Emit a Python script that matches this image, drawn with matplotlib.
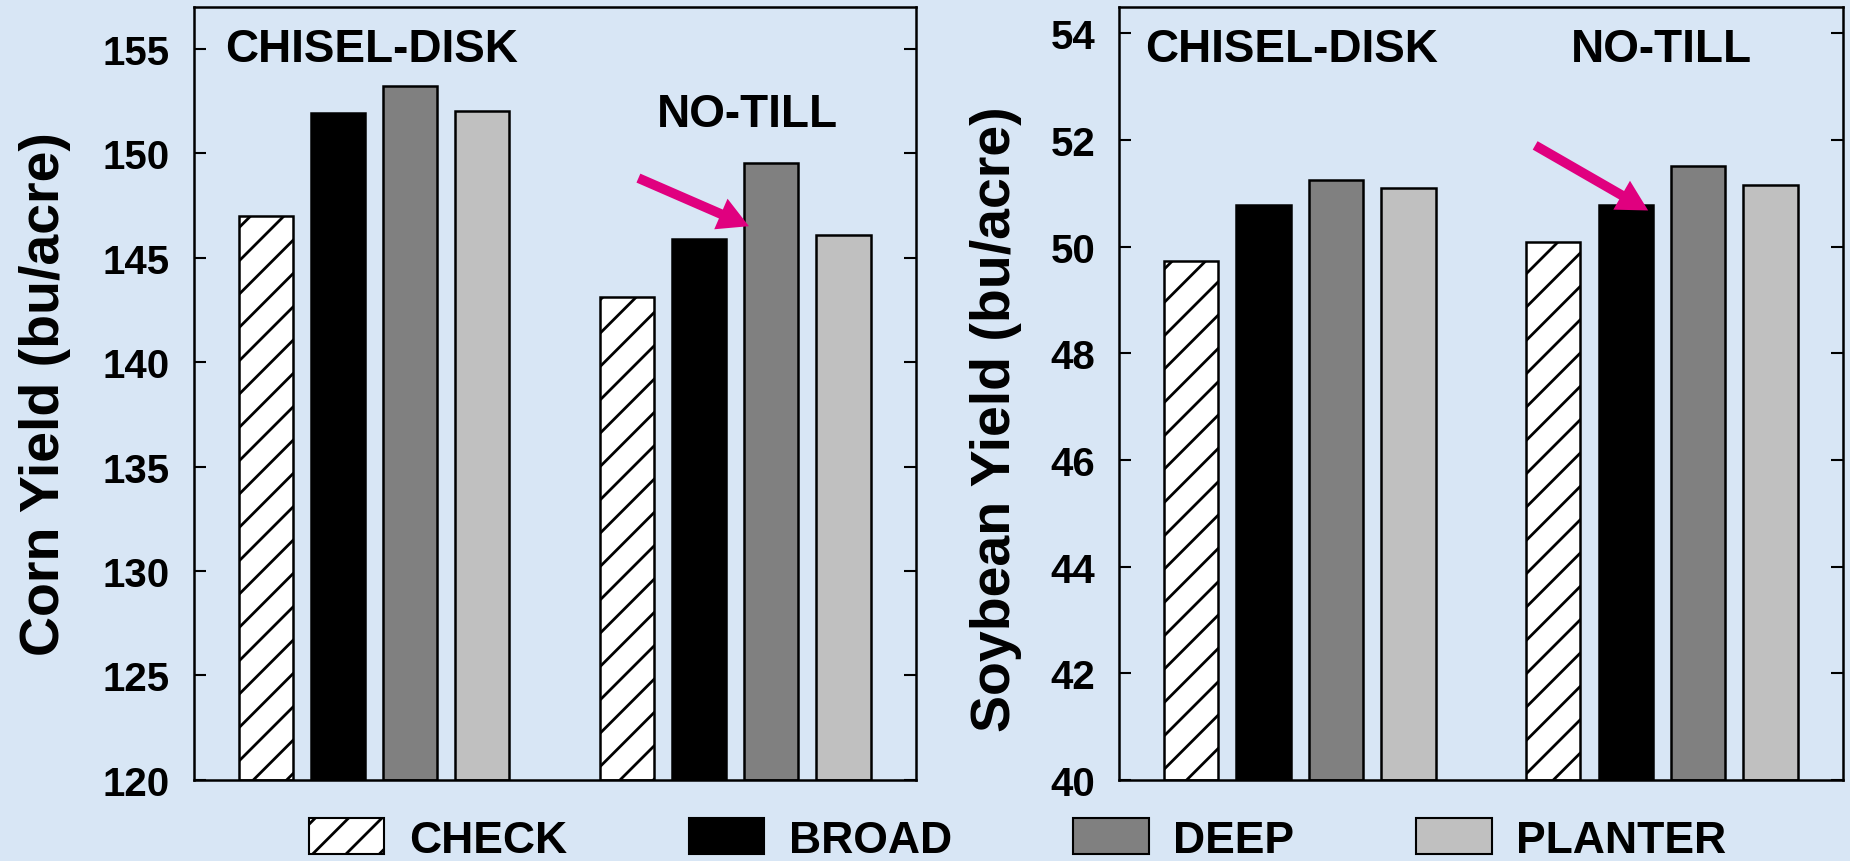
import matplotlib.pyplot as plt
from matplotlib.patches import Patch

plt.rcParams['font.family'] = ['Liberation Sans', 'DejaVu Sans']
plt.rcParams['font.weight'] = 'bold'
plt.rcParams['axes.labelweight'] = 'bold'
plt.rcParams['hatch.linewidth'] = 2.0

treatments = ['CHECK', 'BROAD', 'DEEP', 'PLANTER']
tillage = ['CHISEL-DISK', 'NO-TILL']

# corn yield, bu/acre
corn_chisel = [147.0, 151.9, 153.2, 152.0]
corn_notill = [143.1, 145.9, 149.5, 146.1]

# soybean yield, bu/acre
soy_chisel = [49.73, 50.78, 51.26, 51.10]
soy_notill = [50.08, 50.78, 51.52, 51.15]

colors = ['white', 'black', '#808080', '#c0c0c0']
hatches = ['/', None, None, None]
bg = '#d8e6f5'
pink = '#e0007f'

fig = plt.figure(figsize=(18.5, 8.62), dpi=100, facecolor=bg)
ax1 = fig.add_axes([0.1046, 0.094, 0.3904, 0.897])
ax2 = fig.add_axes([0.6047, 0.094, 0.3915, 0.897])


def draw_panel(ax, chisel, notill, ylim, yticks):
    for i in range(4):
        for x0, vals in ((0, chisel), (5, notill)):
            ax.bar(x0 + i, vals[i] - ylim[0], bottom=ylim[0], width=0.75,
                   color=colors[i], hatch=hatches[i], edgecolor='black',
                   linewidth=1.8, zorder=2)
    ax.set_xlim(-1, 9)
    ax.set_ylim(*ylim)
    ax.set_yticks(yticks)
    ax.set_xticks([])
    ax.set_facecolor('none')
    ax.tick_params(axis='y', direction='in', length=8.5, width=1.5, pad=17,
                   labelsize=29, right=True)
    for s in ax.spines.values():
        s.set_linewidth(1.8)


draw_panel(ax1, corn_chisel, corn_notill, (120, 157), range(120, 156, 5))
draw_panel(ax2, soy_chisel, soy_notill, (40, 54.5), range(40, 55, 2))

ax1.set_ylabel('Corn Yield (bu/acre)', fontsize=40, va='center')
ax1.yaxis.set_label_coords(-0.206, 0.5)
ax2.set_ylabel('Soybean Yield (bu/acre)', fontsize=40, va='center')
ax2.yaxis.set_label_coords(-0.169, 0.468)

ax1.text(-0.56, 154.4, tillage[0], fontsize=33, va='baseline')
ax1.text(5.42, 151.3, tillage[1], fontsize=33, va='baseline')
ax2.text(-0.64, 53.49, tillage[0], fontsize=33, va='baseline')
ax2.text(5.25, 53.49, tillage[1], fontsize=33, va='baseline')

arrow = dict(facecolor=pink, edgecolor='none', width=7, headwidth=24,
             headlength=22, shrink=0)
ax1.annotate('', xy=(6.69, 146.5), xytext=(5.16, 148.8), arrowprops=arrow)
ax2.annotate('', xy=(6.31, 50.68), xytext=(4.75, 51.9), arrowprops=arrow)

handles = [Patch(facecolor=c, hatch=h, edgecolor='black', linewidth=1.5)
           for c, h in zip(colors, hatches)]
fig.legend(handles, treatments, loc='center', bbox_to_anchor=(0.55, 0.025),
           ncol=4, frameon=False, fontsize=32, handlelength=1.7,
           handleheight=0.86, handletextpad=0.55, columnspacing=2.74,
           borderpad=0, borderaxespad=0)

fig.savefig('out.png', dpi=100, facecolor=bg)
